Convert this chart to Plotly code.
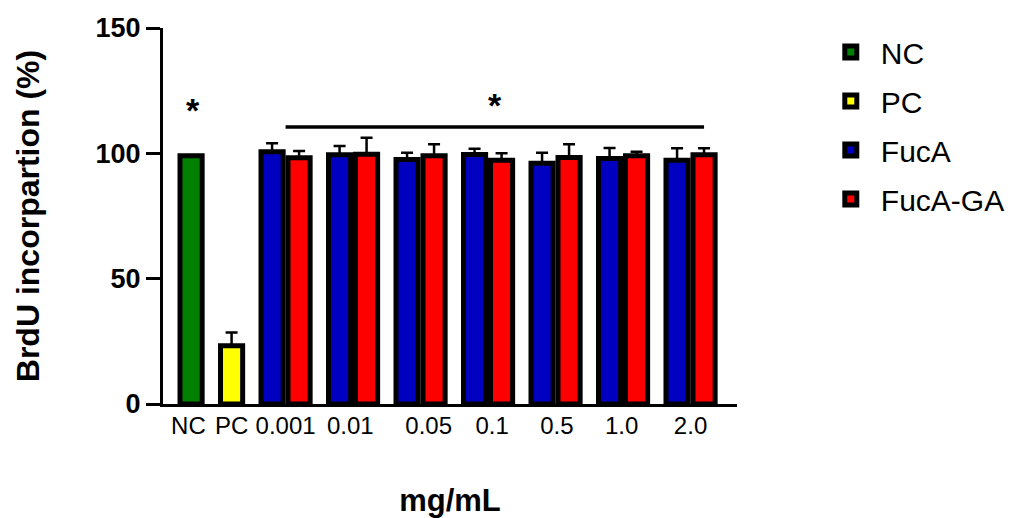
import plotly.graph_objects as go

# ---- data ----
groups = ["0.001", "0.01", "0.05", "0.1", "0.5", "1.0", "2.0"]
nc_value = [99.0]
nc_err = [0.0]
pc_value = [23.2]
pc_err = [5.3]
fuca_values = [100.6, 99.4, 97.5, 99.5, 96.0, 97.9, 97.2]
fuca_err = [3.4, 3.5, 2.7, 2.3, 4.2, 4.2, 4.8]
fucaga_values = [98.2, 99.6, 99.0, 97.2, 98.3, 99.0, 99.4]
fucaga_err = [2.7, 6.6, 4.6, 2.8, 5.3, 1.6, 2.6]

tick_labels = ["NC", "PC"] + groups

# ---- layout positions (axis units) ----
nc_x = [1.0]
pc_x = [2.5]
group_x = [4.5, 7.0, 9.5, 12.0, 14.5, 17.0, 19.5]
tick_pos = [0.9, 2.5, 4.5, 6.9, 9.8, 12.15, 14.55, 16.95, 19.5]
bar_w = 0.82
half = 0.5

FONT = "Liberation Sans, Arial, sans-serif"
LINE = dict(color="black", width=5)


def err(arr):
    return dict(type="data", array=arr, arrayminus=[0] * len(arr), symmetric=False,
                color="black", thickness=2.5, width=6)


fig = go.Figure()
fig.add_trace(go.Bar(name="NC", x=nc_x, y=nc_value, width=bar_w, legendgroup="g0",
                     marker=dict(color="#008000", line=LINE), error_y=err(nc_err)))
fig.add_trace(go.Bar(name="PC", x=pc_x, y=pc_value, width=bar_w, legendgroup="g1",
                     marker=dict(color="#FFFF00", line=LINE), error_y=err(pc_err)))
fig.add_trace(go.Bar(name="FucA", x=[g - half for g in group_x], y=fuca_values, width=bar_w,
                     legendgroup="g2",
                     marker=dict(color="#0000C0", line=LINE), error_y=err(fuca_err)))
fig.add_trace(go.Bar(name="FucA-GA", x=[g + half for g in group_x], y=fucaga_values, width=bar_w,
                     legendgroup="g3",
                     marker=dict(color="#FF0000", line=LINE), error_y=err(fucaga_err)))

# significance bar and asterisks
fig.add_shape(type="line", x0=group_x[0], x1=group_x[-1] + half, y0=110.5, y1=110.5,
              xref="x", yref="y", line=dict(color="black", width=3.5))
fig.add_annotation(x=1.07, y=117.4, text="<b>*</b>", showarrow=False, xref="x", yref="y",
                   font=dict(family=FONT, size=34, color="black"), yanchor="middle")
fig.add_annotation(x=12.26, y=119.4, text="<b>*</b>", showarrow=False, xref="x", yref="y",
                   font=dict(family=FONT, size=34, color="black"), yanchor="middle")

# the page body has an 8px margin, so the figure is 8px smaller and shifted margins
fig.update_layout(
    width=1010, height=510,
    margin=dict(l=155, r=281, t=20, b=114, autoexpand=False),
    plot_bgcolor="white", paper_bgcolor="white",
    barmode="overlay",
    font=dict(family=FONT, color="black"),
    showlegend=True,
    legend=dict(x=1.146, y=1.005, xanchor="left", yanchor="top",
                font=dict(family=FONT, size=30, color="black"),
                traceorder="grouped", tracegroupgap=7, itemwidth=50,
                bgcolor="rgba(0,0,0,0)"),
    xaxis=dict(range=[-0.04, 21.22], showgrid=False, zeroline=False, automargin=False,
               showline=True, linecolor="black", linewidth=3,
               tickmode="array", tickvals=tick_pos, ticktext=tick_labels,
               ticks="", tickfont=dict(family=FONT, size=24, color="black"),
               ticklabelstandoff=-2,
               title=dict(text="<b>mg/mL</b>", font=dict(family=FONT, size=31, color="black"),
                          standoff=56)),
    yaxis=dict(range=[0, 150], showgrid=False, zeroline=False, automargin=False,
               showline=True, linecolor="black", linewidth=3,
               tickmode="array", tickvals=[0, 50, 100, 150],
               ticktext=["<b>0</b>", "<b>50</b>", "<b>100</b>", "<b>150</b>"],
               ticks="outside", ticklen=14, tickwidth=3, tickcolor="black",
               tickfont=dict(family=FONT, size=27, color="black"),
               title=dict(text="<b>BrdU incorpartion (%)</b>",
                          font=dict(family=FONT, size=32, color="black"), standoff=47)),
)

fig.write_html("out.html")
